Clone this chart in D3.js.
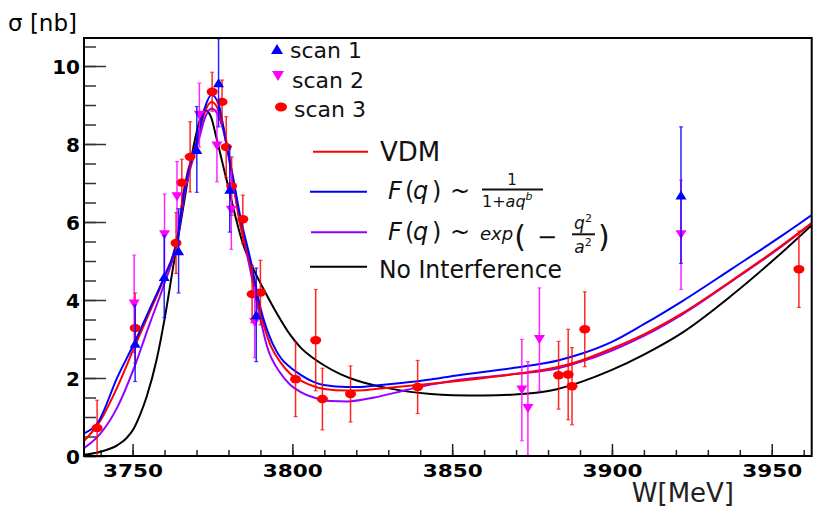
<!DOCTYPE html>
<html>
<head>
<meta charset="utf-8">
<script src="https://cdn.jsdelivr.net/npm/d3@7"></script>
<style>
  body { margin: 0; background: #fff; }
  text { font-family: "DejaVu Sans", sans-serif; }
</style>
</head>
<body>
<script>
// ---- data ----
// scan 1 (blue, up triangles)
const scan1W = [3750.8, 3759.9, 3764.4, 3770.1, 3776.9, 3780.4, 3788.7, 3921.6];
const scan1S = [2.89, 4.6, 5.26, 7.86, 9.57, 6.84, 3.62, 6.69];
const scan1E = [0.98, 1.05, 1.08, 1.1, 1.13, 1.1, 1.2, 1.75];
// scan 2 (magenta, down triangles)
const scan2W = [3750.5, 3760.0, 3763.9, 3770.9, 3776.4, 3780.9, 3788.2, 3871.8, 3873.7, 3877.3, 3921.6];
const scan2S = [3.9, 5.67, 6.65, 8.74, 7.95, 6.3, 3.42, 1.69, 1.22, 2.99, 5.67];
const scan2E = [1.25, 1.05, 0.9, 0.82, 0.92, 1.0, 0.9, 1.3, 1.2, 1.32, 1.4];
// scan 3 (red, circles)
const scan3W = [3738.9, 3750.8, 3763.6, 3765.4, 3768.0, 3774.9, 3778.0, 3779.3, 3781.0, 3784.5,
                3787.4, 3790.0, 3801.0, 3807.3, 3809.4, 3818.2, 3839.2, 3883.3, 3886.3, 3887.5,
                3891.5, 3958.5];
const scan3S = [0.72, 3.28, 5.46, 7.01, 7.67, 9.34, 9.08, 7.92, 6.92, 6.07,
                4.15, 4.19, 1.97, 2.97, 1.46, 1.59, 1.77, 2.07, 2.09, 1.79,
                3.25, 4.79];
const scan3E = [0.71, 0.9, 0.78, 0.6, 0.9, 0.5, 0.56, 0.78, 0.75, 0.62,
                0.73, 0.83, 0.96, 1.3, 0.79, 0.72, 0.68, 0.87, 1.16, 0.99,
                0.96, 0.98];

// fitted curves
const vdmW = [3734.8, 3740, 3745.3, 3750.2, 3755.4, 3759.6, 3763.8, 3766.2, 3770.2, 3772.5, 3774.7, 3777,
              3779.3, 3781.4, 3783.4, 3786.6, 3789.6, 3793.1, 3796.3, 3799.4, 3802.6, 3806.6, 3810,
              3817, 3820.4, 3827.7, 3843.3, 3850.2, 3869.5, 3883.1, 3890.4, 3899.8, 3910, 3921.8,
              3937.5, 3953.2, 3962.5];
const vdmS = [0.38, 0.92, 1.78, 2.72, 3.7, 4.51, 5.54, 6.9, 8.1, 8.8, 9.08, 8.85,
              8.1, 7.08, 6.05, 5.0, 3.8, 2.85, 2.4, 2.1, 1.93, 1.79, 1.72,
              1.68, 1.68, 1.73, 1.85, 1.91, 2.1, 2.28, 2.45, 2.75, 3.12, 3.65,
              4.5, 5.4, 5.97];
const powW = [3734.8, 3739, 3745.3, 3750.5, 3755.7, 3759.9, 3764.1, 3766.2, 3770.2, 3772.5, 3774.7, 3777,
              3779.1, 3781.6, 3783.7, 3786.9, 3790, 3793.7, 3796.5, 3799.4, 3802.6, 3806.6, 3809.8,
              3817.2, 3820.4, 3827.7, 3843.3, 3850.2, 3869.5, 3883.1, 3890.4, 3899.8, 3910, 3921.8,
              3937.5, 3953.2, 3962.5];
const powS = [0.58, 0.84, 2.03, 2.89, 3.83, 4.6, 5.62, 6.82, 8.1, 8.9, 9.26, 9.0,
              8.1, 7.08, 6.14, 5.03, 3.8, 2.9, 2.5, 2.27, 2.08, 1.9, 1.82,
              1.77, 1.77, 1.82, 1.96, 2.05, 2.26, 2.45, 2.62, 2.92, 3.38, 3.96,
              4.8, 5.65, 6.18];
const expW = [3734.8, 3740, 3745.3, 3750.2, 3755.4, 3759.6, 3763.8, 3766.5, 3770.7, 3772.8, 3774.7, 3777,
              3779.1, 3781.4, 3783.5, 3786.5, 3789.5, 3792.1, 3796.3, 3799.4, 3802.6, 3806.7, 3812,
              3817.2, 3825.6, 3836, 3843.3, 3850.2, 3869.5, 3883.1, 3890.4, 3899.8, 3910, 3921.8,
              3937.5, 3953.2, 3962.5];
const expS = [0.2, 0.58, 1.26, 2.2, 3.4, 4.34, 5.45, 6.82, 8.1, 8.7, 8.91, 8.7,
              8.1, 7.0, 6.05, 4.9, 3.7, 2.8, 2.12, 1.82, 1.64, 1.5, 1.41,
              1.4, 1.5, 1.7, 1.83, 1.93, 2.1, 2.25, 2.42, 2.7, 3.08, 3.62,
              4.48, 5.38, 5.97];
const noIntW = [3734.8, 3740, 3745.3, 3748, 3750.2, 3752.3, 3754.4, 3757.5, 3760.2, 3762.8, 3765.4, 3766.6,
                3769.1, 3771, 3772.7, 3774.5, 3776.4, 3779.5, 3784.7, 3787.8, 3791.5, 3795.2, 3799.4,
                3802.6, 3806.7, 3810, 3815, 3820.4, 3829.8, 3843.3, 3850.2, 3860, 3873.7, 3883.1,
                3890.4, 3899.8, 3910, 3921.8, 3937.5, 3953.2, 3962.5];
const noIntS = [0.03, 0.11, 0.28, 0.45, 0.68, 1.05, 1.52, 2.46, 3.6, 4.9, 6.15, 6.75,
                7.95, 8.6, 8.87, 8.7, 8.1, 7.05, 5.4, 4.8, 4.2, 3.65, 3.1,
                2.78, 2.5, 2.32, 2.1, 1.93, 1.74, 1.59, 1.56, 1.55, 1.6, 1.72,
                1.9, 2.2, 2.6, 3.15, 4.12, 5.22, 5.92];

const xMajor = [3750, 3800, 3850, 3900, 3950];
const yMajor = [0, 2, 4, 6, 8, 10];

// ---- drawing ----
const W = 813, H = 509;
const svg = d3.select("body").append("svg").attr("width", W).attr("height", H);

const x = d3.scaleLinear().domain([3734.8, 3962.5]).range([84, 811.7]);
const y = d3.scaleLinear().domain([0, 10.718]).range([456, 38]);

svg.append("clipPath").attr("id", "plot")
  .append("rect").attr("x", 84).attr("y", 38).attr("width", 727.7).attr("height", 418);

// axes (ticks inside the frame)
const gx = svg.append("g").attr("transform", "translate(0,456)");
gx.call(d3.axisBottom(x).tickValues(d3.range(3740, 3961, 10)).tickSize(-6).tickFormat(""));
gx.append("g").call(d3.axisBottom(x).tickValues(xMajor).tickSize(-12).tickPadding(8).tickFormat(d3.format("d")));
gx.selectAll(".domain").remove();
gx.selectAll("line").attr("stroke", "#222").attr("stroke-width", 1.5);
gx.selectAll("text")
  .attr("fill", "#000").attr("font-family", "DejaVu Sans").attr("font-weight", "bold")
  .attr("font-size", 18).attr("textLength", 60).attr("lengthAdjust", "spacingAndGlyphs");

const gy = svg.append("g").attr("transform", "translate(84,0)");
gy.call(d3.axisLeft(y).tickValues(d3.range(0, 10.6, 0.5)).tickSize(-12).tickFormat(""));
gy.append("g").call(d3.axisLeft(y).tickValues(yMajor).tickSize(-22).tickPadding(4).tickFormat(d3.format("d")));
gy.selectAll(".domain").remove();
gy.selectAll("line").attr("stroke", "#333").attr("stroke-width", 1.5);
gy.selectAll("text")
  .attr("fill", "#000").attr("font-family", "DejaVu Sans").attr("font-weight", "bold")
  .attr("font-size", 20).attr("dy", "0.36em");

// curves
const line = d3.line().x(d => x(d[0])).y(d => y(d[1])).curve(d3.curveMonotoneX);
const curves = [
  [noIntW, noIntS, "#000000"],
  [expW, expS, "#9400ff"],
  [vdmW, vdmS, "#ff0000"],
  [powW, powS, "#0000ff"]
];
const plot = svg.append("g").attr("clip-path", "url(#plot)");
curves.forEach(([ws, ss, c]) => {
  plot.append("path").datum(d3.zip(ws, ss)).attr("d", line)
    .attr("fill", "none").attr("stroke", c).attr("stroke-width", 2);
});

// data points with error bars
function triPath(cx, cy, up, w = 11, h = 9) {
  const s = up ? 1 : -1;
  return `M${cx - w / 2},${cy + s * h / 2}L${cx + w / 2},${cy + s * h / 2}L${cx},${cy - s * h / 2}Z`;
}
const scans = [
  [scan3W, scan3S, scan3E, "#ff0000", "circle"],
  [scan2W, scan2S, scan2E, "#ff00ff", "down"],
  [scan1W, scan1S, scan1E, "#0000ff", "up"]
];
scans.forEach(([ws, ss, es, c, shape]) => {
  const pts = d3.zip(ws, ss, es);
  const g = plot.append("g");
  g.selectAll("line.bar").data(pts).join("line")
    .attr("x1", d => x(d[0])).attr("x2", d => x(d[0]))
    .attr("y1", d => y(d[1] - d[2])).attr("y2", d => y(d[1] + d[2]))
    .attr("stroke", c).attr("stroke-width", 1.5).attr("opacity", 0.85);
  [-1, 1].forEach(sgn => {
    g.selectAll(null).data(pts).join("line")
      .attr("x1", d => x(d[0]) - 2).attr("x2", d => x(d[0]) + 2)
      .attr("y1", d => y(d[1] + sgn * d[2])).attr("y2", d => y(d[1] + sgn * d[2]))
      .attr("stroke", c).attr("stroke-width", 1.2).attr("opacity", 0.7);
  });
  if (shape === "circle") {
    g.selectAll("ellipse").data(pts).join("ellipse")
      .attr("cx", d => x(d[0])).attr("cy", d => y(d[1]))
      .attr("rx", 5.5).attr("ry", 4.2).attr("fill", c);
  } else {
    g.selectAll("path").data(pts).join("path")
      .attr("d", d => triPath(x(d[0]), y(d[1]), shape === "up"))
      .attr("fill", c);
  }
});

// frame
svg.append("rect").attr("x", 84).attr("y", 38).attr("width", 727.7).attr("height", 418)
  .attr("fill", "none").attr("stroke", "#000").attr("stroke-width", 2);

// axis titles
svg.append("text").attr("x", 8).attr("y", 31).attr("font-size", 23).text("σ [nb]");
svg.append("text").attr("x", 734).attr("y", 502).attr("text-anchor", "end")
  .attr("font-size", 26).attr("fill", "#222").text("W[MeV]");

// legend: scans
const lg = svg.append("g");
lg.append("path").attr("d", triPath(277, 49, true, 12, 10)).attr("fill", "#0000ff");
lg.append("path").attr("d", triPath(278, 76, false, 12, 10)).attr("fill", "#ff00ff");
lg.append("ellipse").attr("cx", 281).attr("cy", 107).attr("rx", 6).attr("ry", 4.6).attr("fill", "#ff0000");
[["scan 1", 290, 58], ["scan 2", 292, 88], ["scan 3", 294, 117]].forEach(([t, tx, ty]) => {
  lg.append("text").attr("x", tx).attr("y", ty).attr("font-size", 22).attr("fill", "#111").text(t);
});

// legend: curves
[[313, 368, 151.7, "#ff0000"], [310, 367, 191.7, "#0000ff"], [311, 367, 232.3, "#9400ff"], [310, 367, 266.7, "#000"]]
  .forEach(([x1, x2, ly, c]) => {
    lg.append("line").attr("x1", x1).attr("x2", x2).attr("y1", ly).attr("y2", ly)
      .attr("stroke", c).attr("stroke-width", 2);
  });
lg.append("text").attr("x", 380).attr("y", 161).attr("font-size", 26).attr("fill", "#111").text("VDM");
lg.append("text").attr("x", 379).attr("y", 278).attr("font-size", 24).attr("fill", "#111")
  .attr("textLength", 183).attr("lengthAdjust", "spacingAndGlyphs").text("No Interference");

function piece(t, px, py, size, italic, anchor) {
  return lg.append("text").attr("x", px).attr("y", py).attr("font-size", size)
    .attr("font-style", italic ? "italic" : "normal").attr("fill", "#111")
    .attr("text-anchor", anchor || "start").text(t);
}
// F(q) ~ ... shared head
[199, 240].forEach(by => {
  piece("F", 388, by, 24, true);
  piece("(", 405, by, 24, false);
  piece("q", 413, by, 24, true);
  piece(")", 432, by, 24, false);
  piece("~", 450, by, 24, false);
});
// 1 / (1 + a q^b)
piece("1", 512, 185, 15, false, "middle");
lg.append("line").attr("x1", 482).attr("x2", 543).attr("y1", 189.5).attr("y2", 189.5)
  .attr("stroke", "#111").attr("stroke-width", 2);
const den = piece("1+", 482, 207, 16, false);
den.append("tspan").attr("font-style", "italic").text("aq");
den.append("tspan").attr("font-style", "italic").attr("font-size", 11).attr("dy", -7).text("b");
// exp(−q²/a²)
const ex = piece("exp", 480, 240, 18, true);
ex.append("tspan").attr("font-style", "normal").attr("font-size", 30).attr("dx", 1).attr("dy", 7).text("(");
piece("−", 537, 245, 24, false);
const num = piece("q", 583, 229, 17, true, "middle");
num.append("tspan").attr("font-style", "normal").attr("font-size", 11).attr("dy", -7).text("2");
lg.append("line").attr("x1", 572).attr("x2", 595).attr("y1", 234.3).attr("y2", 234.3)
  .attr("stroke", "#111").attr("stroke-width", 2);
const dd = piece("a", 583, 253, 17, true, "middle");
dd.append("tspan").attr("font-style", "normal").attr("font-size", 11).attr("dy", -7).text("2");
piece(")", 598, 247, 30, false);
</script>
</body>
</html>
